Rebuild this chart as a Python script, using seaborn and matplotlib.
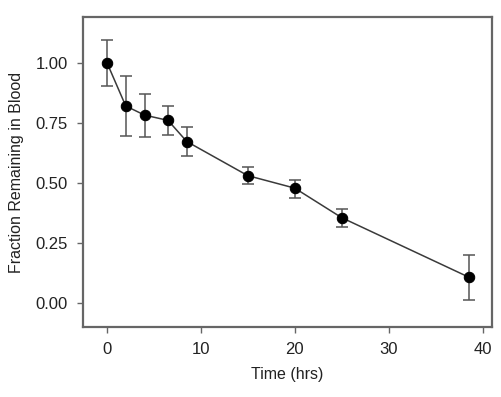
import numpy as np
import pandas as pd
import matplotlib
matplotlib.use("Agg")
import matplotlib.pyplot as plt
import seaborn as sns

# ── Data ──────────────────────────────────────────────
time_hrs = [0, 2, 4, 6.5, 8.5, 15, 20, 25, 38.5]
fraction = [1.00, 0.82, 0.782, 0.76, 0.672, 0.530, 0.478, 0.355, 0.108]
err_upper = [0.096, 0.123, 0.089, 0.058, 0.060, 0.034, 0.035, 0.035, 0.092]
err_lower = [0.096, 0.124, 0.090, 0.060, 0.060, 0.036, 0.039, 0.040, 0.094]

df = pd.DataFrame({"Time": time_hrs, "Fraction": fraction})

# ── Style ─────────────────────────────────────────────
sns.set_theme(style="ticks")
plt.rcParams["font.family"] = ["Liberation Sans", "DejaVu Sans"]
FRAME = "#666666"

fig = plt.figure(figsize=(5.01, 3.97), dpi=100)
ax = fig.add_axes([0.1657, 0.1763, 0.8163, 0.7807])

ax.errorbar(time_hrs, fraction, yerr=[err_lower, err_upper], fmt="none",
            ecolor="#555555", elinewidth=1.1, capsize=4, capthick=1.1, zorder=2)
sns.lineplot(data=df, x="Time", y="Fraction", ax=ax, color="#3a3a3a",
             linewidth=1.1, marker="o", markersize=7.5,
             markerfacecolor="black", markeredgecolor="black", zorder=3)

ax.set_xlim(-2.55, 41.0)
ax.set_ylim(-0.10, 1.19)
ax.set_xticks([0, 10, 20, 30, 40])
ax.set_yticks([0.0, 0.25, 0.5, 0.75, 1.0])
ax.set_yticklabels(["0.00", "0.25", "0.50", "0.75", "1.00"])
ax.set_xlabel("Time (hrs)", fontsize=11.5, color="#222222", labelpad=7)
ax.set_ylabel("Fraction Remaining in Blood", fontsize=11.5, color="#222222", labelpad=8)
ax.tick_params(axis="both", labelsize=12, colors="#222222", length=4,
               width=1, color=FRAME, pad=7)

for s in ax.spines.values():
    s.set_visible(True)
    s.set_color(FRAME)
    s.set_linewidth(1.6)

fig.savefig("out.png", dpi=100)
